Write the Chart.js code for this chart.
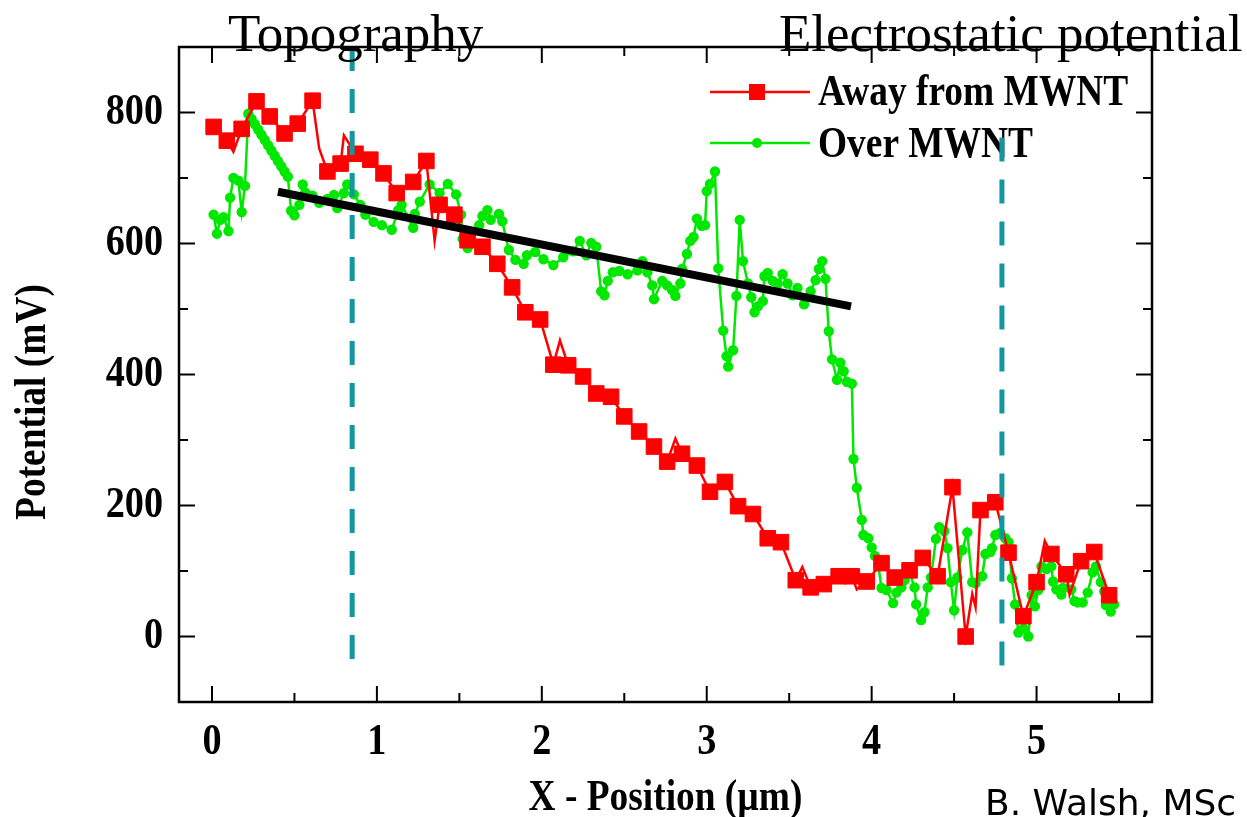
<!DOCTYPE html>
<html>
<head>
<meta charset="utf-8">
<script src="https://cdn.jsdelivr.net/npm/chart.js@4"></script>
<style>
  body { margin: 0; background: #fff; overflow: hidden; }
  #wrap { position: relative; width: 1247px; height: 817px; overflow: hidden; }
  .note { position: absolute; white-space: nowrap; color: #000; line-height: 1; }
  #topo { left: 228px; top: 3px; font: 53px "Liberation Serif", serif; }
  #elec { left: 779px; top: 3px; font: 53px "Liberation Serif", serif; }
  #sign { left: 985px; top: 782px; font: 36px "Comic Sans MS", "DejaVu Sans", sans-serif; }
</style>
</head>
<body>
<div id="wrap">
  <canvas id="chart"></canvas>
  <div class="note" id="topo">Topography</div>
  <div class="note" id="elec">Electrostatic potential</div>
  <div class="note" id="sign">B. Walsh, MSc thesis</div>
</div>
<script>
// Данные: Away from MWNT (маркеры)
const redX = [0.01,0.09,0.18,0.27,0.35,0.44,0.52,0.61,0.70,0.78,0.87,0.96,1.04,1.12,1.22,1.30,
  1.38,1.47,1.55,1.64,1.73,1.82,1.90,1.99,2.07,2.16,2.25,2.33,2.42,2.50,2.59,2.68,
  2.76,2.85,2.94,3.02,3.11,3.19,3.28,3.37,3.45,3.54,3.63,3.71,3.80,3.88,3.97,4.06,
  4.14,4.23,4.31,4.40,4.49,4.57,4.66,4.75,4.83,4.92,5.00,5.09,5.18,5.27,5.35,5.44];
const redY = [778,757,775,817,794,768,783,818,710,722,737,728,707,677,694,726,
  659,644,605,595,569,533,495,484,415,414,397,371,366,336,313,290,
  267,279,261,221,236,199,187,150,144,86,75,80,92,92,84,112,
  90,101,120,92,228,0,193,205,128,31,83,126,95,115,129,63];
// промежуточные точки линии без маркеров
const redLineX = [0.13,0.65,0.80,1.35,2.11,2.81,3.58,3.91,4.61,4.63,5.05,5.20];
const redLineY = [740,745,765,604,452,302,106,72,65,45,146,64];

// Over MWNT
const greenX = [0.01,0.03,0.05,0.07,0.10,0.11,0.13,0.16,0.18,0.20,0.22,0.24,0.26,0.28,0.30,0.32,0.34,0.36,0.38,0.40,
  0.42,0.44,0.46,0.48,0.50,0.53,0.55,0.57,0.61,0.65,0.70,0.74,0.76,0.80,0.82,0.86,0.90,0.93,0.98,1.03,
  1.09,1.13,1.15,1.22,1.23,1.26,1.32,1.38,1.43,1.48,1.51,1.52,1.55,1.62,1.64,1.67,1.69,1.74,1.76,1.80,
  1.84,1.89,1.91,1.96,2.01,2.07,2.13,2.19,2.23,2.27,2.30,2.33,2.36,2.38,2.40,2.43,2.47,2.52,2.58,2.61,
  2.64,2.67,2.68,2.73,2.76,2.79,2.81,2.84,2.85,2.88,2.90,2.92,2.94,2.97,2.99,3.00,3.02,3.05,3.07,3.10,
  3.12,3.13,3.16,3.18,3.20,3.22,3.25,3.27,3.29,3.31,3.34,3.35,3.37,3.40,3.43,3.46,3.49,3.52,3.55,3.59,
  3.63,3.66,3.68,3.70,3.72,3.74,3.76,3.79,3.81,3.83,3.85,3.88,3.89,3.91,3.94,3.95,3.98,4.00,4.02,4.04,
  4.06,4.09,4.13,4.15,4.18,4.20,4.23,4.26,4.27,4.30,4.32,4.34,4.36,4.39,4.41,4.44,4.46,4.48,4.50,4.52,
  4.55,4.58,4.61,4.63,4.67,4.69,4.72,4.73,4.75,4.78,4.81,4.83,4.85,4.87,4.89,4.92,4.95,4.97,4.99,5.01,
  5.03,5.06,5.09,5.10,5.12,5.15,5.16,5.21,5.23,5.25,5.28,5.31,5.34,5.36,5.39,5.41,5.42,5.45,5.47];
const greenY = [644,615,636,640,619,670,700,696,648,688,798,790,782,774,766,758,750,742,734,726,
  718,710,702,650,643,659,690,677,673,662,668,674,654,677,690,675,659,644,633,628,
  621,651,659,624,645,664,690,677,691,675,644,607,593,628,642,651,636,645,634,590,
  575,569,582,587,576,567,579,588,604,582,601,595,527,521,543,556,558,553,559,573,
  556,536,515,543,536,529,520,539,561,584,604,610,638,627,628,680,691,710,562,467,
  428,412,437,520,636,573,539,518,495,504,512,550,555,543,539,553,539,521,532,507,
  527,544,561,573,546,466,423,392,418,405,389,386,271,227,178,155,150,136,123,109,
  74,71,51,67,75,86,98,75,49,25,37,75,90,149,167,161,135,83,40,90,
  132,159,83,81,92,126,129,135,155,158,150,144,89,49,6,12,0,63,46,71,
  107,103,107,84,72,64,74,72,54,52,52,67,98,107,83,69,48,38,49];

// линейная аппроксимация и пунктирные маркеры
const fitX = [0.40, 3.875];
const fitY = [679, 504];
const dashAX = [0.85, 0.85];
const dashAY = [900, -38];
const dashBX = [4.79, 4.79];
const dashBY = [762, -48];

// оси
const xRange = [-0.2, 5.7];
const yRange = [-100, 900];
const xMajor = [0, 1, 2, 3, 4, 5];
const xMinor = [0.5, 1.5, 2.5, 3.5, 4.5, 5.5];
const yMajor = [0, 200, 400, 600, 800];
const yMinor = [100, 300, 500, 700];

const RED = '#ff0000';
const GREEN = '#00e800';
const TEAL = '#13979e';
const SERIF = '"Liberation Serif", "Times New Roman", serif';

const pts = (xs, ys, extra) => xs.map((x, i) => Object.assign({ x: x, y: ys[i] }, extra || {}));

const redData = pts(redX, redY, { m: true })
  .concat(pts(redLineX, redLineY, { m: false }))
  .sort((a, b) => a.x - b.x);

// сжатый по горизонтали текст
function narrowText(ctx, text, x, y, align) {
  ctx.save();
  ctx.translate(x, y);
  ctx.scale(0.85, 1);
  ctx.textAlign = align;
  ctx.fillText(text, 0, 0);
  ctx.restore();
}

const framePlugin = {
  id: 'frame',
  beforeDatasetsDraw(chart) {
    const c = chart.ctx;
    // легенда
    c.save();
    c.lineWidth = 2.5;
    c.strokeStyle = RED;
    c.beginPath(); c.moveTo(710, 92); c.lineTo(810, 92); c.stroke();
    c.fillStyle = RED;
    c.fillRect(749, 84, 16, 16);
    c.strokeStyle = GREEN;
    c.beginPath(); c.moveTo(710, 143); c.lineTo(810, 143); c.stroke();
    c.fillStyle = GREEN;
    c.beginPath(); c.arc(757, 143, 5, 0, Math.PI * 2); c.fill();
    c.fillStyle = '#000';
    c.font = 'bold 44px ' + SERIF;
    c.textBaseline = 'alphabetic';
    narrowText(c, 'Away from MWNT', 818, 105, 'left');
    narrowText(c, 'Over MWNT', 818, 157, 'left');
    c.restore();
  },
  afterDraw(chart) {
    const c = chart.ctx;
    const a = chart.chartArea;
    const xs = chart.scales.x, ys = chart.scales.y;
    c.save();
    c.strokeStyle = '#000';
    c.lineWidth = 2.5;
    c.strokeRect(a.left, a.top, a.right - a.left, a.bottom - a.top);
    c.lineWidth = 2;
    const tick = (x1, y1, x2, y2) => { c.beginPath(); c.moveTo(x1, y1); c.lineTo(x2, y2); c.stroke(); };
    xMajor.forEach(v => { const p = xs.getPixelForValue(v); tick(p, a.bottom, p, a.bottom - 16); tick(p, a.top, p, a.top + 16); });
    xMinor.forEach(v => { const p = xs.getPixelForValue(v); tick(p, a.bottom, p, a.bottom - 9); tick(p, a.top, p, a.top + 9); });
    yMajor.forEach(v => { const p = ys.getPixelForValue(v); tick(a.left, p, a.left + 16, p); tick(a.right, p, a.right - 16, p); });
    yMinor.forEach(v => { const p = ys.getPixelForValue(v); tick(a.left, p, a.left + 9, p); tick(a.right, p, a.right - 9, p); });

    c.fillStyle = '#000';
    c.font = 'bold 45px ' + SERIF;
    c.textBaseline = 'middle';
    xMajor.forEach(v => narrowText(c, String(v), xs.getPixelForValue(v), a.bottom + 40, 'center'));
    yMajor.forEach(v => narrowText(c, String(v), a.left - 16, ys.getPixelForValue(v), 'right'));

    c.font = 'bold 44px ' + SERIF;
    narrowText(c, 'X - Position (\u00b5m)', (a.left + a.right) / 2, 799, 'center');
    c.save();
    c.translate(34, 402);
    c.rotate(-Math.PI / 2);
    narrowText(c, 'Potential (mV)', 0, 0, 'center');
    c.restore();
    c.restore();
  }
};

const ctx = document.getElementById('chart').getContext('2d');
const chart = new Chart(ctx, {
  type: 'line',
  data: {
    datasets: [
      {
        label: 'dashA', data: pts(dashAX, dashAY), borderColor: TEAL, borderWidth: 5,
        borderDash: [24, 18], pointRadius: 0, order: 0
      },
      {
        label: 'dashB', data: pts(dashBX, dashBY), borderColor: TEAL, borderWidth: 5,
        borderDash: [24, 18], pointRadius: 0, order: 0
      },
      {
        label: 'fit', data: pts(fitX, fitY), borderColor: '#000', borderWidth: 8,
        pointRadius: 0, order: 1
      },
      {
        label: 'Away from MWNT', data: redData, borderColor: RED, borderWidth: 2.5,
        backgroundColor: RED, pointStyle: 'rect', pointBorderWidth: 1,
        pointRadius: c => (c.raw && c.raw.m ? 11 : 0), tension: 0, order: 2
      },
      {
        label: 'Over MWNT', data: pts(greenX, greenY), borderColor: GREEN, borderWidth: 2.5,
        backgroundColor: GREEN, pointStyle: 'circle', pointBorderWidth: 0,
        pointRadius: 5.2, tension: 0, order: 3
      }
    ]
  },
  options: {
    responsive: true,
    maintainAspectRatio: false,
    animation: false,
    events: [],
    layout: { padding: { left: 179, right: 95, top: 47, bottom: 115 } },
    plugins: { legend: { display: false }, title: { display: false }, tooltip: { enabled: false } },
    scales: {
      x: { type: 'linear', min: xRange[0], max: xRange[1], display: false },
      y: { type: 'linear', min: yRange[0], max: yRange[1], display: false }
    }
  },
  plugins: [framePlugin]
});
</script>
</body>
</html>
